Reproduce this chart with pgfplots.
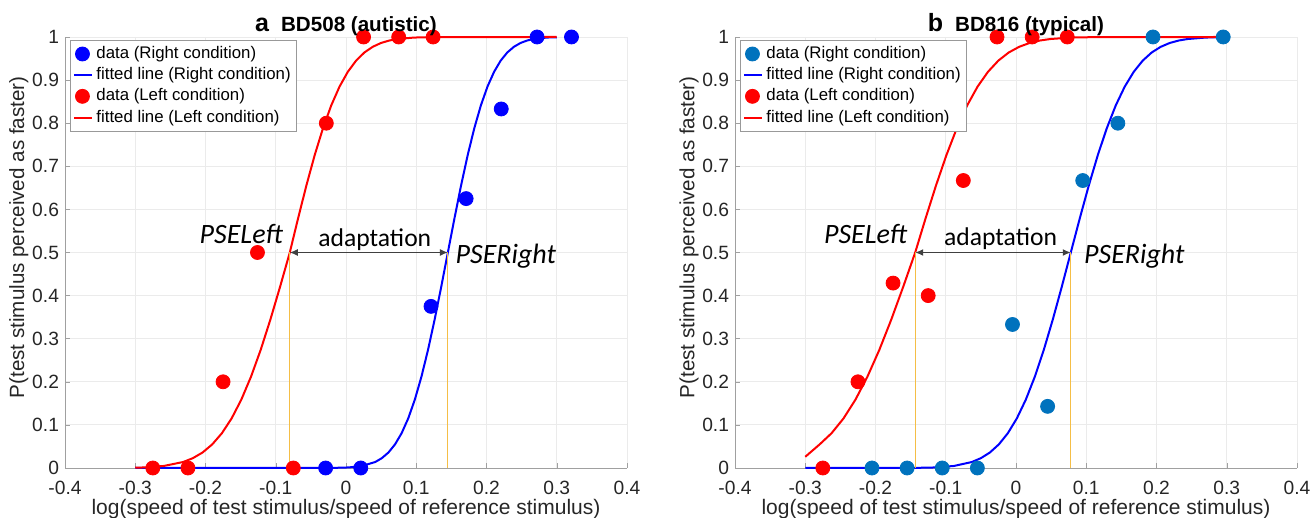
\documentclass[border=0pt]{standalone}
\usepackage{fontspec}
\setmainfont{Liberation Sans}
\newfontfamily\calibri{Carlito}
\usepackage{pgfplots}
\pgfplotsset{compat=1.18}
\usetikzlibrary{arrows.meta}
\definecolor{mblue}{RGB}{0,114,189}
\definecolor{morange}{RGB}{245,190,70}
\definecolor{axgray}{RGB}{160,160,160}
\definecolor{arrgray}{RGB}{64,64,64}

\pgfplotsset{
 psy/.style={
  scale only axis, width=281pt, height=215.5pt, anchor=south west,
  xmin=-0.4, xmax=0.4, ymin=0, ymax=1,
  xtick={-0.4,-0.3,-0.2,-0.1,0,0.1,0.2,0.3,0.4},
  xticklabels={-0.4,-0.3,-0.2,-0.1,0,0.1,0.2,0.3,0.4},
  ytick={0,0.1,0.2,0.3,0.4,0.5,0.6,0.7,0.8,0.9,1},
  yticklabels={0,0.1,0.2,0.3,0.4,0.5,0.6,0.7,0.8,0.9,1},
  axis x line*=bottom, axis y line*=left,
  axis line style={axgray,-},
  tick align=inside, major tick length=2.5pt, tick style={axgray},
  grid=major, major grid style={black!8, line width=0.4pt},
  ticklabel style={font=\fontsize{9.6}{10}\selectfont, text=black!85},
  xticklabel style={yshift=-3pt},
  yticklabel style={xshift=0.5pt},
  xlabel={log(speed of test stimulus/speed of reference stimulus)},
  ylabel={P(test stimulus perceived as faster)},
  xlabel style={font=\fontsize{10.5}{12}\selectfont, text=black!85, at={(axis description cs:0.5,-0.095)}, anchor=center},
  ylabel style={font=\fontsize{10.3}{12}\selectfont, text=black!85, at={(axis description cs:-0.082,0.535)}, anchor=center},
  legend style={at={(axis description cs:0.009,0.993)}, anchor=north west,
    draw=black!40, fill=white, font=\fontsize{8.4}{9.4}\selectfont,
    inner sep=1.5pt, row sep=0pt, nodes={inner ysep=1.5pt, inner xsep=1.5pt}},
  legend cell align=left,
  title style={at={(axis description cs:0.5,1)}, anchor=base, yshift=-3.5pt},
  clip=false,
 },
 dot/.style={only marks, mark=*, mark size=3.5pt},
 fit/.style={line width=1pt, no marks},
 pse/.style={morange, line width=0.5pt, forget plot},
 arr/.style={arrgray, line width=0.6pt, {Latex[length=4pt,width=3.5pt]}-{Latex[length=4pt,width=3.5pt]}, forget plot},
 legdot/.style={legend image code/.code={\draw[##1] plot coordinates {(4pt,0pt)};}},
 legline/.style={legend image code/.code={\draw[##1] (0pt,0pt) -- (9pt,0pt);}},
}
\newcommand\psefont{\calibri\itshape\fontsize{14}{16}\selectfont}
\newcommand\adfont{\calibri\fontsize{12.8}{15}\selectfont}

\begin{document}
\begin{tikzpicture}
\useasboundingbox (0,0) rectangle (655.5pt,259pt);

% ---------------- panel a ----------------
\begin{axis}[psy, at={(32.5pt,25pt)},
  title={{\fontsize{12.5}{14}\selectfont\bfseries a}\hspace{6pt}{\fontsize{10.3}{12}\selectfont\bfseries BD508 (autistic)}}]
\addplot[dot, color=blue, legdot] coordinates {
 (-0.029,0) (0.021,0) (0.121,0.375) (0.171,0.625) (0.221,0.833) (0.272,1) (0.321,1)};
\addlegendentry{data (Right condition)}
\addplot[fit, color=blue, legline] coordinates {
 (-0.3,0) (-0.0195,0.0002) (0.004,0.0013) (0.0228,0.0047) (0.0416,0.0139) (0.051,0.0228)
 (0.0604,0.0359) (0.0698,0.0548) (0.0792,0.0808) (0.0886,0.1151) (0.098,0.1587)
 (0.1074,0.2119) (0.1168,0.2743) (0.1262,0.3446) (0.1356,0.4207) (0.145,0.5)
 (0.1544,0.5793) (0.1638,0.6554) (0.1732,0.7257) (0.1826,0.7881) (0.192,0.8413)
 (0.2014,0.8849) (0.2108,0.9192) (0.2202,0.9452) (0.2296,0.9641) (0.239,0.9772)
 (0.2484,0.9861) (0.2578,0.9918) (0.2672,0.9953) (0.286,0.9987) (0.3,0.9994)};
\addlegendentry{fitted line (Right condition)}
\addplot[dot, color=red, legdot] coordinates {
 (-0.275,0) (-0.225,0) (-0.175,0.2) (-0.126,0.5) (-0.075,0) (-0.028,0.8) (0.025,1) (0.075,1) (0.124,1)};
\addlegendentry{data (Left condition)}
\addplot[fit, color=red, legline] coordinates {
 (-0.3,0.0007) (-0.287,0.0013) (-0.2594,0.0047) (-0.2318,0.0139) (-0.218,0.0228)
 (-0.2042,0.0359) (-0.1904,0.0548) (-0.1766,0.0808) (-0.1628,0.1151) (-0.149,0.1587)
 (-0.1352,0.2119) (-0.1214,0.2743) (-0.1076,0.3446) (-0.0938,0.4207) (-0.08,0.5)
 (-0.0682,0.5793) (-0.0564,0.6554) (-0.0446,0.7257) (-0.0328,0.7881) (-0.021,0.8413)
 (-0.0092,0.8849) (0.0026,0.9192) (0.0144,0.9452) (0.0262,0.9641) (0.038,0.9772)
 (0.0498,0.9861) (0.0616,0.9918) (0.0734,0.9953) (0.097,0.9987) (0.1265,0.9998) (0.3,1)};
\addlegendentry{fitted line (Left condition)}
\addplot[pse] coordinates {(-0.0804,0) (-0.0804,0.5)};
\addplot[pse] coordinates {(0.145,0) (0.145,0.5)};
\addplot[arr] coordinates {(-0.08,0.5) (0.145,0.5)};
\node[font=\psefont, anchor=base east] at (axis cs:-0.08,0.52) {PSELeft};
\node[font=\adfont, anchor=base] at (axis cs:0.041,0.515) {adaptation};
\node[font=\psefont, anchor=base west] at (axis cs:0.146,0.475) {PSERight};
\end{axis}

% ---------------- panel b ----------------
\begin{axis}[psy, at={(367.5pt,25pt)},
  title={{\fontsize{12.5}{14}\selectfont\bfseries b}\hspace{6pt}{\fontsize{10.3}{12}\selectfont\bfseries BD816 (typical)}}]
\addplot[dot, color=mblue, legdot] coordinates {
 (-0.205,0) (-0.155,0) (-0.105,0) (-0.055,0) (-0.005,0.333) (0.045,0.143) (0.095,0.667) (0.145,0.8) (0.195,1) (0.295,1)};
\addlegendentry{data (Right condition)}
\addplot[fit, color=blue, legline] coordinates {
 (-0.3,0) (-0.146,0.0002) (-0.114,0.0013) (-0.0884,0.0047) (-0.0628,0.0139) (-0.05,0.0228)
 (-0.0372,0.0359) (-0.0244,0.0548) (-0.0116,0.0808) (0.0012,0.1151) (0.014,0.1587)
 (0.0268,0.2119) (0.0396,0.2743) (0.0524,0.3446) (0.0652,0.4207) (0.078,0.5)
 (0.0908,0.5793) (0.1036,0.6554) (0.1164,0.7257) (0.1292,0.7881) (0.142,0.8413)
 (0.1548,0.8849) (0.1676,0.9192) (0.1804,0.9452) (0.1932,0.9641) (0.206,0.9772)
 (0.2188,0.9861) (0.2316,0.9918) (0.2444,0.9953) (0.27,0.9987) (0.3,0.9998)};
\addlegendentry{fitted line (Right condition)}
\addplot[dot, color=red, legdot] coordinates {
 (-0.275,0) (-0.225,0.2) (-0.175,0.429) (-0.125,0.4) (-0.075,0.667) (-0.027,1) (0.023,1) (0.073,1)};
\addlegendentry{data (Left condition)}
\addplot[fit, color=red, legline] coordinates {
 (-0.3,0.026) (-0.2795,0.0548) (-0.2625,0.0808) (-0.2455,0.1151) (-0.2285,0.1587)
 (-0.2115,0.2119) (-0.1945,0.2743) (-0.1775,0.3446) (-0.1605,0.4207) (-0.1435,0.5)
 (-0.1287,0.5793) (-0.1139,0.6554) (-0.0991,0.7257) (-0.0843,0.7881) (-0.0695,0.8413)
 (-0.0547,0.8849) (-0.0399,0.9192) (-0.0251,0.9452) (-0.0103,0.9641) (0.0045,0.9772)
 (0.0193,0.9861) (0.0341,0.9918) (0.0489,0.9953) (0.0785,0.9987) (0.1155,0.9998) (0.3,1)};
\addlegendentry{fitted line (Left condition)}
\addplot[pse] coordinates {(-0.1435,0) (-0.1435,0.5)};
\addplot[pse] coordinates {(0.078,0) (0.078,0.5)};
\addplot[arr] coordinates {(-0.1435,0.5) (0.078,0.5)};
\node[font=\psefont, anchor=base east] at (axis cs:-0.145,0.522) {PSELeft};
\node[font=\adfont, anchor=base] at (axis cs:-0.022,0.517) {adaptation};
\node[font=\psefont, anchor=base west] at (axis cs:0.087,0.475) {PSERight};
\end{axis}
\end{tikzpicture}
\end{document}
